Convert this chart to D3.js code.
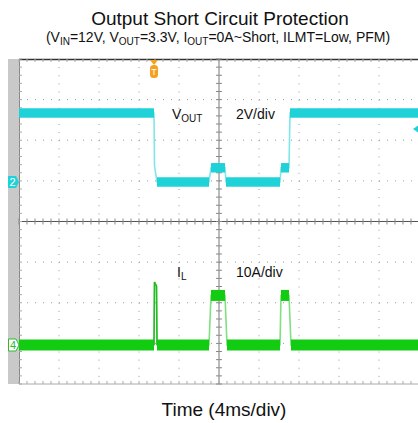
<!DOCTYPE html>
<html><head><meta charset="utf-8">
<script src="https://cdn.jsdelivr.net/npm/d3@7"></script>
<style>body{margin:0;background:#fff}svg{display:block}text{font-family:"Liberation Sans",Arial,sans-serif}</style>
</head><body><svg id="c" width="418" height="423"></svg>
<script>
// time in ms (4 ms/div), VOUT in V (2 V/div), IL in A (10 A/div)
const voutT = [0, 13.5, 13.55, 13.8, 19.0, 19.2, 20.6, 20.7, 26.1, 26.2, 27.0, 27.1, 40];
const voutV = [3.4, 3.4, 0.8, 0.0, 0.0, 0.7, 0.7, 0.0, 0.0, 0.7, 0.7, 3.4, 3.4];
const ilT = [0, 13.5, 13.55, 13.75, 13.8, 19.0, 19.2, 20.6, 20.8, 26.1, 26.2, 27.0, 27.2, 40];
const ilA = [0, 0, 15.5, 14.5, 0, 0, 12.2, 12.2, 0, 0, 12.2, 12.2, 0, 0];
const timeDivs = d3.range(0, 11);
const vDivs = d3.range(-4, 5);

const svg = d3.select("#c");
const L = 19, R = 419, T = 59, B = 384;
const x = d3.scaleLinear([0, 40], [L, R]);
const yDiv = d3.scaleLinear([-4, 4], [B, T]);
const yV = d3.scaleLinear([0, 2], [182, 182 - (B - T) / 8]);
const yI = d3.scaleLinear([0, 10], [345, 345 - (B - T) / 8]);

// title
svg.append("text").attr("x", 220).attr("y", 25).attr("text-anchor", "middle")
  .attr("font-size", 19).attr("fill", "#111").text("Output Short Circuit Protection");
const sub = svg.append("text").attr("x", 218).attr("y", 42).attr("text-anchor", "middle")
  .attr("font-size", 14).attr("fill", "#111");
const parts = [["(V",0],["IN",1],["=12V, V",0],["OUT",1],["=3.3V, I",0],["OUT",1],["=0A~Short, ILMT=Low, PFM)",0]];
parts.forEach(([t,s],i)=>{
  const prev = i>0 ? parts[i-1][1] : 0;
  sub.append("tspan").attr("font-size", s?10:14).attr("dy", s && !prev ? 2.5 : (!s && prev ? -2.5 : 0)).text(t);
});

// gray strip
svg.append("rect").attr("x", 8).attr("y", T).attr("width", L - 8).attr("height", B - T).attr("fill", "#c9c9c9");
svg.append("rect").attr("x", L).attr("y", T).attr("width", R - L).attr("height", B - T).attr("fill", "#fff");

// dotted grid
const g = svg.append("g");
timeDivs.forEach(d => {
  if (d === 0 || d === 5) return;
  g.append("line").attr("x1", x(d*4)).attr("x2", x(d*4)).attr("y1", T).attr("y2", B)
    .attr("stroke", "#9a9a9a").attr("stroke-width", 1).attr("stroke-dasharray", "1,7.125");
});
vDivs.forEach(d => {
  if (d === 0 || d === 4 || d === -4) return;
  g.append("line").attr("x1", L).attr("x2", R).attr("y1", yDiv(d)).attr("y2", yDiv(d))
    .attr("stroke", "#9a9a9a").attr("stroke-width", 1).attr("stroke-dasharray", "1,7");
});
// center axes & borders with minor ticks
const cx = x(20), cy = yDiv(0);
g.append("line").attr("x1", cx).attr("x2", cx).attr("y1", T).attr("y2", B).attr("stroke", "#777");
g.append("line").attr("x1", L).attr("x2", R).attr("y1", cy).attr("y2", cy).attr("stroke", "#555");
g.append("line").attr("x1", L).attr("x2", R).attr("y1", T+0.5).attr("y2", T+0.5).attr("stroke", "#333").attr("stroke-width", 1.5);
g.append("line").attr("x1", L).attr("x2", R).attr("y1", B).attr("y2", B).attr("stroke", "#aaa");
g.append("line").attr("x1", L+0.5).attr("x2", L+0.5).attr("y1", T).attr("y2", B).attr("stroke", "#888");
const minorX = d3.range(0, 50).map(i => i * 0.8);
const minorY = d3.range(0, 41).map(i => -4 + i * 0.2);
minorX.forEach(t => {
  const xx = x(t);
  g.append("line").attr("x1", xx).attr("x2", xx).attr("y1", cy-3).attr("y2", cy+3).attr("stroke", "#888");
  g.append("line").attr("x1", xx).attr("x2", xx).attr("y1", T).attr("y2", T+3).attr("stroke", "#aaa");
  g.append("line").attr("x1", xx).attr("x2", xx).attr("y1", B-3).attr("y2", B).attr("stroke", "#aaa");
});
minorY.forEach(d => {
  const yy = yDiv(d);
  g.append("line").attr("x1", cx-3).attr("x2", cx+3).attr("y1", yy).attr("y2", yy).attr("stroke", "#888");
  g.append("line").attr("x1", L).attr("x2", L+3).attr("y1", yy).attr("y2", yy).attr("stroke", "#aaa");
});

// traces
function drawTrace(ts, vs, ys, color, edge, bandW) {
  const pts = ts.map((t,i)=>[x(t), ys(vs[i])]);
  svg.append("path").attr("d", d3.line()(pts)).attr("fill","none").attr("stroke", edge).attr("stroke-width", 1.6);
  for (let i=0;i<pts.length-1;i++){
    if (vs[i]===vs[i+1]) {
      svg.append("line").attr("x1", pts[i][0]).attr("x2", pts[i+1][0]).attr("y1", pts[i][1]).attr("y2", pts[i+1][1])
        .attr("stroke", color).attr("stroke-width", bandW);
    }
  }
}
drawTrace(voutT, voutV, yV, "#1fd2d8", "#7fe6ea", 9.5);
drawTrace(ilT, ilA, yI, "#12cc12", "#7fe07f", 11);
// IL spike core
const spikeIdx = [1,2,3,4];
svg.append("path").attr("d", d3.line()(spikeIdx.map(i=>[x(ilT[i]), yI(ilA[i])])))
  .attr("fill","none").attr("stroke","#22bb22").attr("stroke-width",1.5);

// labels
const lab = (xx, yy, main, subT) => {
  const t = svg.append("text").attr("x", xx).attr("y", yy).attr("font-size", 14).attr("fill", "#111");
  t.append("tspan").text(main);
  if (subT) t.append("tspan").attr("font-size", 10).attr("dy", 2.5).text(subT);
};
lab(172, 119, "V", "OUT");
lab(236, 119, "2V/div");
lab(177, 277, "I", "L");
lab(236, 277, "10A/div");

// markers
const m2 = svg.append("g").attr("transform", `translate(8,${yV(0)})`);
m2.append("path").attr("d","M0,-6 H8 L11,0 L8,6 H0 Z").attr("fill","#1fd2d8");
m2.append("text").attr("x",4.5).attr("y",4).attr("font-size",11).attr("fill","#fff").attr("text-anchor","middle").text("2");
const m4 = svg.append("g").attr("transform", `translate(8,${yI(0)})`);
m4.append("path").attr("d","M0.5,-6 H8 L11,0 L8,6 H0.5 Z").attr("fill","#fff").attr("stroke","#2db82d");
m4.append("text").attr("x",5).attr("y",4).attr("font-size",11).attr("fill","#2db82d").attr("text-anchor","middle").text("4");
// trigger marker
const tg = svg.append("g").attr("transform", `translate(${x(13.5)},${T})`);
tg.append("path").attr("d","M-4,1 H4 L0,6 Z").attr("fill","#f5a020");
tg.append("rect").attr("x",-4).attr("y",6).attr("width",8).attr("height",13).attr("rx",3.5).attr("fill","#f5a020");
tg.append("text").attr("x",0).attr("y",16).attr("font-size",9).attr("fill","#fff").attr("text-anchor","middle").text("T");
// right offscreen marker
svg.append("path").attr("d",`M413,129 L418,125.5 L418,132.5 Z`).attr("fill","#1fd2d8");

// x axis title
svg.append("text").attr("x", 224).attr("y", 416).attr("text-anchor", "middle")
  .attr("font-size", 19).attr("fill", "#111").text("Time (4ms/div)");
</script></body></html>
